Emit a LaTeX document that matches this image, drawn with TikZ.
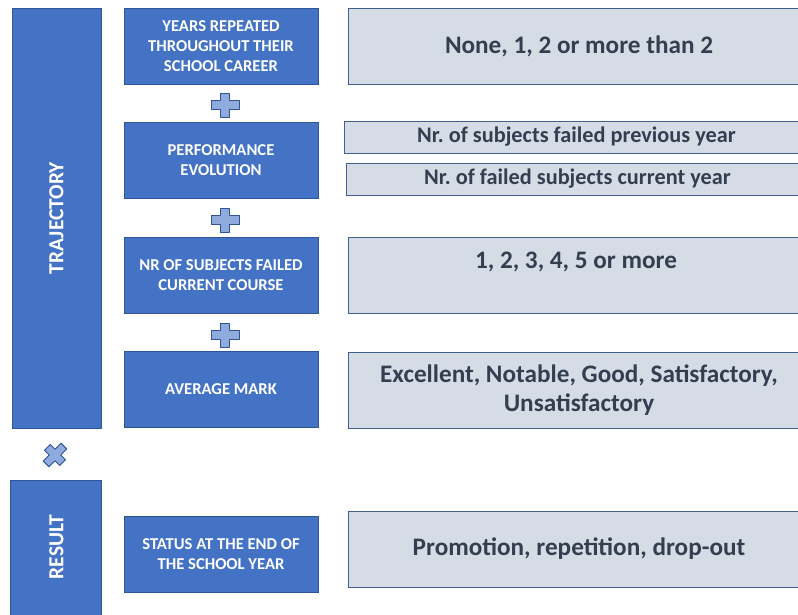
\documentclass[tikz,border=0pt]{standalone}
\usepackage{fontspec}
\setmainfont{Carlito}
\usepackage{tikz}
\frenchspacing
\definecolor{bluefill}{HTML}{4472C4}
\definecolor{blueline}{HTML}{2F5597}
\definecolor{greyfill}{HTML}{D6DCE5}
\definecolor{greyline}{HTML}{41608F}
\definecolor{plusfill}{HTML}{8FAADC}
\definecolor{textdark}{HTML}{333F50}
\tikzstyle{sidebar}=[rectangle, fill=bluefill, draw=blueline, line width=1pt, inner sep=0pt]
\tikzstyle{sidetext}=[rotate=90, text=white, font=\fontsize{21.5}{24}\selectfont\bfseries]
\tikzstyle{factor}=[rectangle, fill=bluefill, draw=blueline, line width=1pt, inner sep=0pt, minimum width=194pt, minimum height=76pt, text=white, align=center, font=\fontsize{16.6}{20}\selectfont\bfseries]
\tikzstyle{values}=[rectangle, fill=greyfill, draw=greyline, line width=1pt, inner sep=0pt, minimum height=76pt, text=textdark, align=center, font=\fontsize{25.2}{29}\selectfont\bfseries]
\tikzstyle{valuesmall}=[values, minimum height=32pt, font=\fontsize{22.3}{24}\selectfont\bfseries]
\tikzstyle{plusline}=[fill=plusfill, draw=blueline, line width=1pt, line join=round]
\tikzset{plussign/.pic={
  \draw[plusline] (-4.5,-12) -- (4.5,-12) -- (4.5,-4.5) -- (14,-4.5) -- (14,4.5) -- (4.5,4.5)
    -- (4.5,12) -- (-4.5,12) -- (-4.5,4.5) -- (-14,4.5) -- (-14,-4.5) -- (-4.5,-4.5) -- cycle;
}}

\begin{document}
\begin{tikzpicture}[x=1pt, y=-1pt]
	\begin{scope}
		\clip (0, 0) rectangle (798, 614);
		\fill[white] (0, 0) rectangle (798, 614);

		% left bars
		\node (traj) at (56.5, 218) [sidebar, minimum width=89pt, minimum height=420pt] {};
		\node (trajtext) at (traj.center) [sidetext] {TRAJECTORY};
		\node (res) at (55.5, 550) [sidebar, minimum width=91pt, minimum height=140pt] {};
		\node (restext) at (56.5, 547) [sidetext] {RESULT};

		% factors
		\node (f1) at (221, 46) [factor] {YEARS REPEATED\\THROUGHOUT THEIR\\SCHOOL CAREER};
		\node (f2) at (221, 160.5) [factor] {PERFORMANCE\\EVOLUTION};
		\node (f3) at (221, 275) [factor] {NR OF SUBJECTS FAILED\\CURRENT COURSE};
		\node (f4) at (221, 389.5) [factor] {AVERAGE MARK};
		\node (f5) at (221, 554.5) [factor] {STATUS AT THE END OF\\THE SCHOOL YEAR};

		% values
		\node (v1) at (579, 46) [values, minimum width=462pt] {None, 1, 2 or more than 2};
		\node (v2a) at (576.5, 137) [valuesmall, minimum width=465pt] {Nr. of subjects failed previous year};
		\node (v2b) at (577.5, 179) [valuesmall, minimum width=463pt] {Nr. of failed subjects current year};
		\node (v3) at (579, 275) [values, minimum width=462pt] {};
		\node (v3text) at (576, 262) [text=textdark, font=\fontsize{25.2}{29}\selectfont\bfseries] {1, 2, 3, 4, 5 or more};
		\node (v4) at (579, 390) [values, minimum width=462pt] {Excellent, Notable, Good, Satisfactory,\\Unsatisfactory};
		\node (v5) at (579, 549) [values, minimum width=462pt] {Promotion, repetition, drop-out};

		% operators
		\coordinate (p1) at (225, 105);
		\coordinate (p2) at (225, 220);
		\coordinate (p3) at (225, 335);
		\coordinate (times) at (55, 455);
		\pic at (p1) {plussign};
		\pic at (p2) {plussign};
		\pic at (p3) {plussign};
		\pic[rotate=45, scale=0.9] at (times) {plussign};
	\end{scope}
\end{tikzpicture}
\end{document}
